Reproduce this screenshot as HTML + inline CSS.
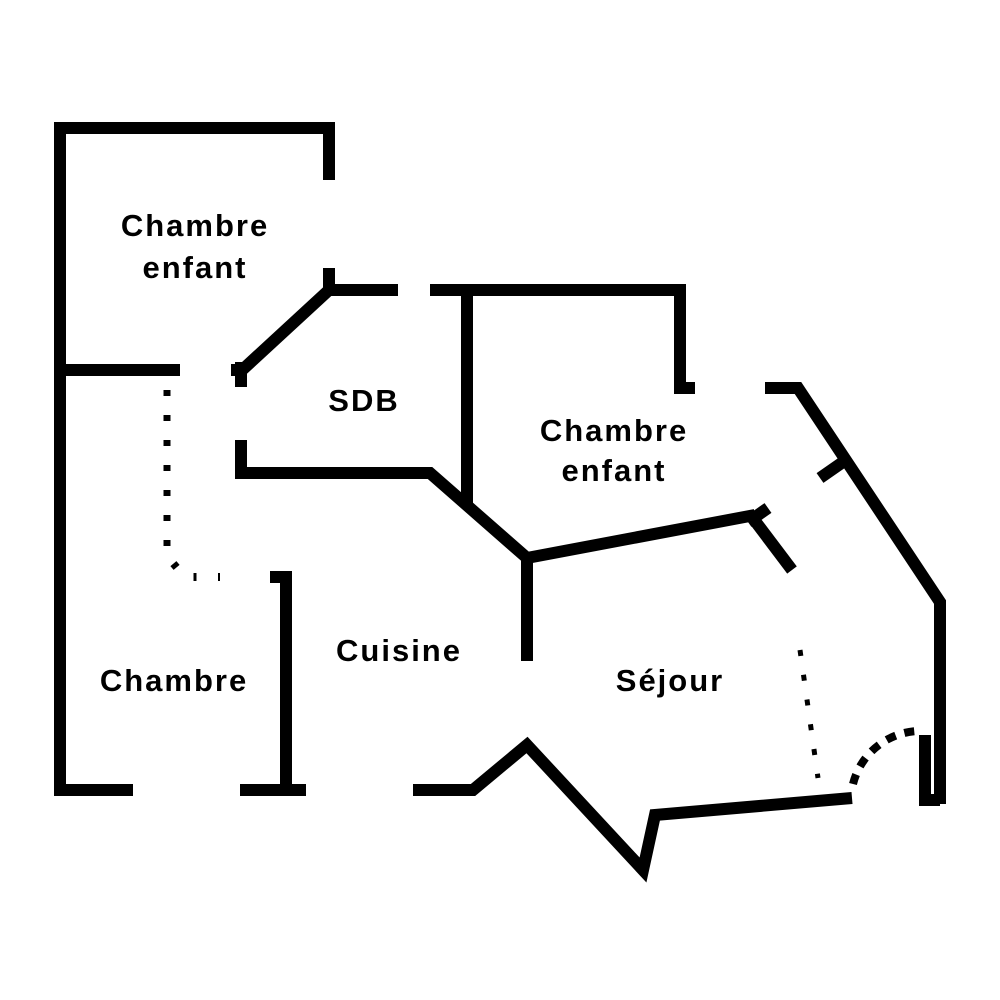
<!DOCTYPE html>
<html><head><meta charset="utf-8"><style>
html,body{margin:0;padding:0;background:#fff;width:1000px;height:1000px;overflow:hidden}
svg{display:block}
text{font-family:"Liberation Sans","DejaVu Sans",sans-serif;font-weight:bold;font-size:31px;letter-spacing:2px;fill:#000;text-anchor:middle}
</style></head><body>
<svg width="1000" height="1000" viewBox="0 0 1000 1000" xmlns="http://www.w3.org/2000/svg">
<g fill="none" stroke="#000" stroke-width="12" stroke-linejoin="miter" stroke-linecap="butt">
<polyline points="329,180 329,128 60,128 60,796"/>
<line x1="60" y1="790" x2="133" y2="790"/>
<line x1="240" y1="790" x2="306" y2="790"/>
<polyline points="270,577 286,577 286,790"/>
<line x1="60" y1="370" x2="180" y2="370"/>
<line x1="329" y1="268" x2="329" y2="296"/>
<line x1="329" y1="290" x2="398" y2="290"/>
<line x1="329" y1="290" x2="240" y2="372"/>
<line x1="241" y1="362" x2="241" y2="387"/>
<line x1="231" y1="370" x2="245" y2="370"/>
<polyline points="430,290 680,290 680,388 695,388"/>
<line x1="467" y1="290" x2="467" y2="507"/>
<polyline points="241,440 241,473 430,473 527,558 755,515"/>
<line x1="527" y1="558" x2="527" y2="661"/>
<line x1="748" y1="522" x2="768" y2="508"/>
<line x1="752" y1="517" x2="792" y2="570"/>
<polyline points="765,388 798,388 940,602 940,804"/>
<line x1="843" y1="462" x2="820" y2="478"/>
<polyline points="413,790 473,790 527,745 643,870 655,815 852,798"/>
<polyline points="925,735 925,800 940,800"/>
</g>
<g fill="none" stroke="#000" stroke-width="6">
<line x1="167" y1="390" x2="167" y2="550" stroke-dasharray="6 19" stroke-width="7"/>
<path d="M172,568 L178,563" stroke-width="5"/>
<line x1="195" y1="573" x2="195" y2="581" stroke-width="3"/>
<line x1="219" y1="573" x2="219" y2="581" stroke-width="2"/>
<line x1="800" y1="650" x2="818" y2="778" stroke-dasharray="6 19" stroke-width="5"/>
<path d="M853,784 A70,70 0 0 1 918,731" stroke-width="8" stroke-dasharray="10 9"/>
</g>
<text x="195" y="236">Chambre</text>
<text x="195" y="278">enfant</text>
<text x="364" y="411">SDB</text>
<text x="614" y="441">Chambre</text>
<text x="614" y="481">enfant</text>
<text x="399" y="661">Cuisine</text>
<text x="174" y="691">Chambre</text>
<text x="670" y="691">Séjour</text>
</svg>
</body></html>
